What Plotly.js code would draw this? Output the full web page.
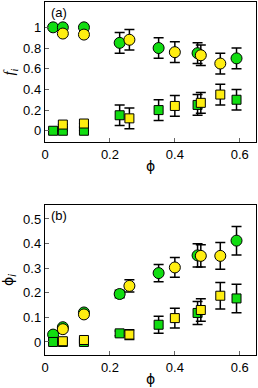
<!DOCTYPE html>
<html><head><meta charset="utf-8">
<script src="https://cdn.plot.ly/plotly-3.0.1.min.js"></script>
<style>html,body{margin:0;padding:0;background:#fff}#c{width:258px;height:388px}</style>
</head><body><div id="c"></div>
<script>
// ---- data ----
const xGreen = [0.025, 0.055, 0.12, 0.23, 0.35, 0.47, 0.59];
const xYellow = [0.055, 0.12, 0.26, 0.40, 0.48, 0.54];

// panel (a): f_i
const fGreenCirc = [1.0, 1.0, 1.0, 0.85, 0.80, 0.75, 0.70];
const fGreenCircErr = [0, 0, 0, 0.1, 0.1, 0.1, 0.1];
const fYellowCirc = [0.94, 0.93, 0.88, 0.76, 0.73, 0.65];
const fYellowCircErr = [0, 0, 0.1, 0.1, 0.1, 0.1];
const fGreenSq = [0, 0, 0, 0.15, 0.20, 0.25, 0.30];
const fGreenSqErr = [0, 0, 0, 0.1, 0.1, 0.1, 0.1];
const fYellowSq = [0.06, 0.07, 0.12, 0.24, 0.27, 0.35];
const fYellowSqErr = [0, 0, 0.1, 0.1, 0.1, 0.1];

// panel (b): phi_i
const pGreenCirc = [0.03, 0.06, 0.12, 0.195, 0.28, 0.352, 0.412];
const pGreenCircErr = [0, 0, 0, 0.015, 0.035, 0.047, 0.058];
const pYellowCirc = [0.052, 0.112, 0.228, 0.303, 0.35, 0.35];
const pYellowCircErr = [0, 0, 0.025, 0.04, 0.045, 0.054];
const pGreenSq = [0, 0, 0, 0.035, 0.07, 0.118, 0.177];
const pGreenSqErr = [0, 0, 0, 0.01, 0.035, 0.047, 0.058];
const pYellowSq = [0.003, 0.008, 0.03, 0.097, 0.13, 0.188];
const pYellowSqErr = [0, 0, 0.02, 0.04, 0.046, 0.054];

const xTicks = [0, 0.2, 0.4, 0.6];
const xTickText = ['0', '0.2', '0.4', '0.6'];
const yTicksA = [0, 0.2, 0.4, 0.6, 0.8, 1];
const yTicksB = [0, 0.1, 0.2, 0.3, 0.4, 0.5];

// ---- styling ----
const GREEN = '#11dd11', YELLOW = '#ffee11';
function tr(x, y, e, color, symbol, size, xa, ya) {
  return {
    x: x, y: y, type: 'scatter', mode: 'markers', xaxis: xa, yaxis: ya,
    marker: {color: color, symbol: symbol, size: size, line: {color: '#000', width: 1}},
    error_y: {type: 'data', array: e, visible: true, color: '#000', thickness: 1.5, width: 5},
    showlegend: false, hoverinfo: 'skip'
  };
}
const data = [
  tr(xGreen, fGreenCirc, fGreenCircErr, GREEN, 'circle', 11, 'x', 'y'),
  tr(xYellow, fYellowCirc, fYellowCircErr, YELLOW, 'circle', 11, 'x', 'y'),
  tr(xGreen, fGreenSq, fGreenSqErr, GREEN, 'square', 9, 'x', 'y'),
  tr(xYellow, fYellowSq, fYellowSqErr, YELLOW, 'square', 9, 'x', 'y'),
  tr(xGreen, pGreenCirc, pGreenCircErr, GREEN, 'circle', 11, 'x2', 'y2'),
  tr(xYellow, pYellowCirc, pYellowCircErr, YELLOW, 'circle', 11, 'x2', 'y2'),
  tr(xGreen, pGreenSq, pGreenSqErr, GREEN, 'square', 9, 'x2', 'y2'),
  tr(xYellow, pYellowSq, pYellowSqErr, YELLOW, 'square', 9, 'x2', 'y2')
];
const FONT = {family: 'Liberation Sans, Arial, sans-serif', size: 13, color: '#000'};
const axBase = {
  showline: true, mirror: true, linecolor: '#000', linewidth: 1.2,
  ticks: 'inside', ticklen: 4, tickcolor: '#666', tickwidth: 1,
  showgrid: false, zeroline: false, tickfont: FONT
};
const layout = {
  width: 258, height: 388,
  margin: {l: 45, r: 2, t: 2, b: 33},
  paper_bgcolor: '#fff', plot_bgcolor: '#fff',
  font: FONT,
  xaxis: Object.assign({}, axBase, {domain: [0, 1], range: [0, 0.65], anchor: 'y',
    tickvals: xTicks, ticktext: xTickText,
    title: {text: 'ϕ', font: {family: 'DejaVu Sans, sans-serif', size: 14}, standoff: 0}}),
  yaxis: Object.assign({}, axBase, {domain: [0.603, 1], range: [-0.11, 1.245], anchor: 'x',
    tickvals: yTicksA,
    title: {text: '<i>f<sub>i</sub></i>', font: {family: 'Liberation Serif, serif', size: 15}, standoff: 4}}),
  xaxis2: Object.assign({}, axBase, {domain: [0, 1], range: [0, 0.65], anchor: 'y2',
    tickvals: xTicks, ticktext: xTickText,
    title: {text: 'ϕ', font: {family: 'DejaVu Sans, sans-serif', size: 14}, standoff: 0}}),
  yaxis2: Object.assign({}, axBase, {domain: [0, 0.425], range: [-0.053, 0.557], anchor: 'x2',
    tickvals: yTicksB,
    title: {text: 'ϕ<sub><i>i</i></sub>', font: {family: 'DejaVu Sans, sans-serif', size: 14}, standoff: 6}}),
  annotations: [
    {text: '(a)', xref: 'x domain', yref: 'y domain', x: 0.02, y: 0.99, xanchor: 'left', yanchor: 'top', showarrow: false, font: FONT},
    {text: '(b)', xref: 'x2 domain', yref: 'y2 domain', x: 0.02, y: 0.99, xanchor: 'left', yanchor: 'top', showarrow: false, font: FONT}
  ]
};
Plotly.newPlot('c', data, layout, {displayModeBar: false, staticPlot: true});
</script></body></html>
